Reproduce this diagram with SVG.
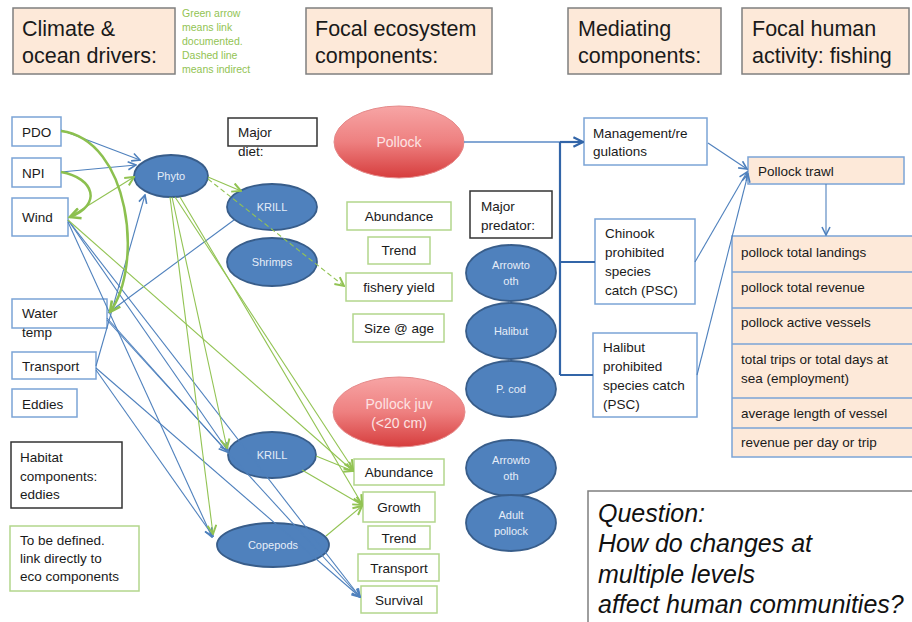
<svg xmlns="http://www.w3.org/2000/svg" width="912" height="622" viewBox="0 0 912 622">
<defs>
<linearGradient id="rg" x1="0" y1="0" x2="0" y2="1">
<stop offset="0" stop-color="#f7a5a5"/>
<stop offset="0.5" stop-color="#ee8080"/>
<stop offset="1" stop-color="#d63d3d"/>
</linearGradient>
<marker id="arrB" viewBox="0 0 10 10" refX="9" refY="5" markerWidth="10" markerHeight="10" markerUnits="userSpaceOnUse" orient="auto">
<path d="M1,1 L9,5 L1,9" fill="none" stroke="#4f81bd" stroke-width="1.6"/>
</marker>
<marker id="arrG" viewBox="0 0 10 10" refX="9" refY="5" markerWidth="11" markerHeight="11" markerUnits="userSpaceOnUse" orient="auto">
<path d="M1,1 L9,5 L1,9" fill="none" stroke="#92c353" stroke-width="1.8"/>
</marker>
<marker id="arrGT" viewBox="0 0 10 10" refX="9" refY="5" markerWidth="13" markerHeight="13" markerUnits="userSpaceOnUse" orient="auto">
<path d="M1,1 L9,5 L1,9" fill="none" stroke="#8cc04f" stroke-width="2"/>
</marker>
<marker id="arrD" viewBox="0 0 10 10" refX="9" refY="5" markerWidth="12" markerHeight="12" markerUnits="userSpaceOnUse" orient="auto">
<path d="M1,1 L9,5 L1,9" fill="none" stroke="#3265a8" stroke-width="1.8"/>
</marker>
</defs>
<style>
text { font-family: "Liberation Sans", Arial, sans-serif; fill: #1a1a1a; }
.hdr { fill: #fde9d9; stroke: #7f7f7f; stroke-width: 1.5; }
.htx { font-size: 21.5px; }
.note { font-size: 10.5px; fill: #92c353; }
.bbox { fill: #ffffff; stroke: #7ba4d6; stroke-width: 1.5; }
.gbox { fill: #ffffff; stroke: #b3d68c; stroke-width: 1.5; }
.kbox { fill: #ffffff; stroke: #333333; stroke-width: 1.5; }
.pbox { fill: #fde9d9; stroke: #7ba4d6; stroke-width: 1.5; }
.ell { fill: #4f81bd; stroke: #385d8a; stroke-width: 1.8; }
.red { fill: url(#rg); stroke: #e58a8a; stroke-width: 1; }
.t { font-size: 13.5px; }
.c { text-anchor: middle; }
.w { font-size: 11px; fill: #e6edf8; text-anchor: middle; }
.rt { font-size: 14px; fill: #fde3e3; text-anchor: middle; }
.q { font-size: 25px; font-style: italic; fill: #111; }
.cb { fill: none; stroke: #4f81bd; stroke-width: 1.1; }
.cg { fill: none; stroke: #92c353; stroke-width: 1.1; }
.cgt { fill: none; stroke: #8cc04f; stroke-width: 2.5; }
.cd { fill: none; stroke: #3265a8; stroke-width: 2.2; }
</style>

<!-- headers -->
<g id="hdr-climate"><rect class="hdr" x="13" y="8" width="162" height="66"/><text class="htx" x="22" y="36">Climate &amp;</text><text class="htx" x="22" y="63">ocean drivers:</text></g>
<g id="legend-note"><text class="note" x="182" y="17">Green arrow</text><text class="note" x="182" y="31">means link</text><text class="note" x="182" y="45">documented.</text><text class="note" x="182" y="59">Dashed line</text><text class="note" x="182" y="73">means indirect</text></g>
<g id="hdr-focal"><rect class="hdr" x="306" y="8" width="186" height="66"/><text class="htx" x="315" y="36">Focal ecosystem</text><text class="htx" x="315" y="63">components:</text></g>
<g id="hdr-mediating"><rect class="hdr" x="568" y="8" width="153" height="66"/><text class="htx" x="578" y="36">Mediating</text><text class="htx" x="578" y="63">components:</text></g>
<g id="hdr-human"><rect class="hdr" x="742" y="8" width="167" height="66"/><text class="htx" x="752" y="36">Focal human</text><text class="htx" x="752" y="63">activity: fishing</text></g>

<!-- left drivers -->
<g id="n-pdo"><rect class="bbox" x="12" y="117" width="49" height="29"/><text class="t" x="22" y="137">PDO</text></g>
<g id="n-npi"><rect class="bbox" x="12" y="158" width="49" height="29"/><text class="t" x="22" y="178">NPI</text></g>
<g id="n-wind"><rect class="bbox" x="12" y="198" width="56" height="38"/><text class="t" x="22" y="222">Wind</text></g>
<g id="n-watertemp"><rect class="bbox" x="12" y="299" width="95" height="29"/><text class="t" x="22" y="318">Water</text><text class="t" x="22" y="337">temp</text></g>
<g id="n-transport"><rect class="bbox" x="12" y="352" width="84" height="27"/><text class="t" x="22" y="371">Transport</text></g>
<g id="n-eddies"><rect class="bbox" x="12" y="389" width="65" height="28"/><text class="t" x="22" y="409">Eddies</text></g>
<g id="n-habitat"><rect class="kbox" x="11" y="442" width="111" height="66"/><text class="t" x="20" y="462">Habitat</text><text class="t" x="20" y="481">components:</text><text class="t" x="20" y="499">eddies</text></g>
<g id="n-tbd"><rect class="gbox" x="10" y="526" width="129" height="65"/><text class="t" x="20" y="545">To be defined.</text><text class="t" x="20" y="563">link directly to</text><text class="t" x="20" y="581">eco components</text></g>

<!-- focal ecosystem -->
<g id="n-majordiet"><rect class="kbox" x="228" y="118" width="89" height="28"/><text class="t" x="238" y="137">Major</text><text class="t" x="238" y="156">diet:</text></g>
<g id="n-pollock"><ellipse class="red" cx="399" cy="142" rx="65" ry="36"/><text class="rt" x="399" y="147">Pollock</text></g>
<g id="n-phyto"><ellipse class="ell" cx="171" cy="176" rx="37" ry="21"/><text class="w" x="171" y="180">Phyto</text></g>
<g id="n-krill1"><ellipse class="ell" cx="272" cy="207" rx="45" ry="23"/><text class="w" x="272" y="211">KRILL</text></g>
<g id="n-shrimps"><ellipse class="ell" cx="272" cy="262" rx="45" ry="24"/><text class="w" x="272" y="266">Shrimps</text></g>
<g id="n-abund1"><rect class="gbox" x="347" y="202" width="104" height="28"/><text class="t c" x="399" y="221">Abundance</text></g>
<g id="n-trend1"><rect class="gbox" x="368" y="237" width="62" height="27"/><text class="t c" x="399" y="255">Trend</text></g>
<g id="n-fishery"><rect class="gbox" x="346" y="273" width="106" height="28"/><text class="t c" x="399" y="292">fishery yield</text></g>
<g id="n-size"><rect class="gbox" x="353" y="314" width="91" height="28"/><text class="t c" x="399" y="333">Size @ age</text></g>
<g id="n-pollockjuv"><ellipse class="red" cx="399" cy="412" rx="66" ry="35"/><text class="rt" x="399" y="409">Pollock juv</text><text class="rt" x="399" y="428">(&lt;20 cm)</text></g>
<g id="n-krill2"><ellipse class="ell" cx="272" cy="455" rx="44" ry="23"/><text class="w" x="272" y="459">KRILL</text></g>
<g id="n-copepods"><ellipse class="ell" cx="273" cy="545" rx="56" ry="22"/><text class="w" x="273" y="549">Copepods</text></g>
<g id="n-abund2"><rect class="gbox" x="354" y="459" width="90" height="26"/><text class="t c" x="399" y="477">Abundance</text></g>
<g id="n-growth"><rect class="gbox" x="363" y="492" width="72" height="30"/><text class="t c" x="399" y="512">Growth</text></g>
<g id="n-trend2"><rect class="gbox" x="368" y="526" width="62" height="23"/><text class="t c" x="399" y="543">Trend</text></g>
<g id="n-transport2"><rect class="gbox" x="358" y="554" width="81" height="27"/><text class="t c" x="399" y="573">Transport</text></g>
<g id="n-survival"><rect class="gbox" x="361" y="586" width="76" height="27"/><text class="t c" x="399" y="605">Survival</text></g>

<!-- predators -->
<g id="n-majorpred"><rect class="kbox" x="470" y="191" width="82" height="47"/><text class="t" x="481" y="211">Major</text><text class="t" x="481" y="230">predator:</text></g>
<g id="n-arrow1"><ellipse class="ell" cx="511" cy="273" rx="45" ry="28"/><text class="w" x="511" y="269">Arrowto</text><text class="w" x="511" y="285">oth</text></g>
<g id="n-halibut"><ellipse class="ell" cx="511" cy="331" rx="45" ry="28"/><text class="w" x="511" y="335">Halibut</text></g>
<g id="n-pcod"><ellipse class="ell" cx="511" cy="389" rx="45" ry="28"/><text class="w" x="511" y="393">P. cod</text></g>
<g id="n-arrow2"><ellipse class="ell" cx="511" cy="468" rx="45" ry="28"/><text class="w" x="511" y="464">Arrowto</text><text class="w" x="511" y="480">oth</text></g>
<g id="n-adultpollock"><ellipse class="ell" cx="511" cy="523" rx="45" ry="28"/><text class="w" x="511" y="519">Adult</text><text class="w" x="511" y="535">pollock</text></g>

<!-- mediating -->
<g id="n-management"><rect class="bbox" x="584" y="118" width="123" height="47"/><text class="t" x="593" y="138">Management/re</text><text class="t" x="593" y="156">gulations</text></g>
<g id="n-chinook"><rect class="bbox" x="595" y="219" width="100" height="85"/><text class="t" x="605" y="238">Chinook</text><text class="t" x="605" y="257">prohibited</text><text class="t" x="605" y="276">species</text><text class="t" x="605" y="295">catch (PSC)</text></g>
<g id="n-halibutpsc"><rect class="bbox" x="593" y="333" width="104" height="84"/><text class="t" x="603" y="352">Halibut</text><text class="t" x="603" y="371">prohibited</text><text class="t" x="603" y="390">species catch</text><text class="t" x="603" y="409">(PSC)</text></g>

<!-- human activity -->
<g id="n-trawl"><rect class="pbox" x="748" y="157" width="156" height="27"/><text class="t" x="758" y="176">Pollock trawl</text></g>
<g id="n-metrics">
<rect class="pbox" x="732" y="236" width="190" height="221"/>
<path d="M732,272 H912 M732,308 H912 M732,344 H912 M732,398 H912 M732,428 H912" stroke="#7ba4d6" stroke-width="1.5" fill="none"/>
<text class="t" x="741" y="257">pollock total landings</text>
<text class="t" x="741" y="292">pollock total revenue</text>
<text class="t" x="741" y="327">pollock active vessels</text>
<text class="t" x="741" y="364">total trips or total days at</text>
<text class="t" x="741" y="383">sea (employment)</text>
<text class="t" x="741" y="418">average length of vessel</text>
<text class="t" x="741" y="447">revenue per day or trip</text>
</g>

<!-- question -->
<g id="n-question"><rect x="588" y="491" width="340" height="140" fill="#ffffff" stroke="#7f7f7f" stroke-width="1.5"/>
<text class="q" x="598" y="522">Question:</text>
<text class="q" x="598" y="552">How do changes at</text>
<text class="q" x="598" y="583">multiple levels</text>
<text class="q" x="598" y="613">affect human communities?</text></g>

<!-- connectors -->
<g id="connectors">
<path class="cb" d="M61,130 L140,160" marker-end="url(#arrB)"/>
<path class="cb" d="M61,172 L136,165" marker-end="url(#arrB)"/>
<path class="cb" d="M96,366 L145,195" marker-end="url(#arrB)"/>
<path class="cb" d="M108,313 L234,220"/>
<path class="cb" d="M68,220 L228,451" marker-end="url(#arrB)"/>
<path class="cb" d="M68,222 L212,537" marker-end="url(#arrB)"/>
<path class="cb" d="M68,220 L360,597" marker-end="url(#arrB)"/>
<path class="cb" d="M107,318 L227,452" marker-end="url(#arrB)"/>
<path class="cb" d="M107,320 L360,597" marker-end="url(#arrB)"/>
<path class="cb" d="M96,370 L213,536" marker-end="url(#arrB)"/>
<path class="cb" d="M96,368 L360,597" marker-end="url(#arrB)"/>

<path class="cg" d="M68,218 L134,177" marker-end="url(#arrG)"/>
<path class="cg" d="M208,177 L241,191" marker-end="url(#arrG)"/>
<path class="cg" d="M208,179 L344,286" stroke-dasharray="5,3" marker-end="url(#arrG)"/>
<path class="cg" d="M172,197 L227,448" marker-end="url(#arrG)"/>
<path class="cg" d="M170,197 L213,534" marker-end="url(#arrG)"/>
<path class="cg" d="M175,197 L353,469" marker-end="url(#arrG)"/>
<path class="cg" d="M180,197 L362,504" marker-end="url(#arrG)"/>
<path class="cg" d="M68,220 L353,471" marker-end="url(#arrG)"/>
<path class="cg" d="M316,456 L353,471" marker-end="url(#arrG)"/>
<path class="cg" d="M302,470 L362,505" marker-end="url(#arrG)"/>
<path class="cg" d="M326,536 L362,506" marker-end="url(#arrG)"/>
<path class="cgt" d="M61,131 C130,140 144,265 110,312" marker-end="url(#arrGT)"/>
<path class="cgt" d="M61,172 C95,178 102,205 70,217" marker-end="url(#arrGT)"/>

<path d="M464,142 L560,142" fill="none" stroke="#5b8ac6" stroke-width="1.5"/>
<path class="cd" d="M560,142 L583,142" marker-end="url(#arrD)"/>
<path class="cd" d="M560,142 L560,375 M560,262 L595,262 M560,375 L593,375"/>
<path class="cb" d="M708,143 L747,169" marker-end="url(#arrB)"/>
<path class="cb" d="M695,262 L747,172" marker-end="url(#arrB)"/>
<path class="cb" d="M697,375 L748,174" marker-end="url(#arrB)"/>
<path class="cb" d="M826,184 L826,235" marker-end="url(#arrB)"/>
</g>
</svg>
